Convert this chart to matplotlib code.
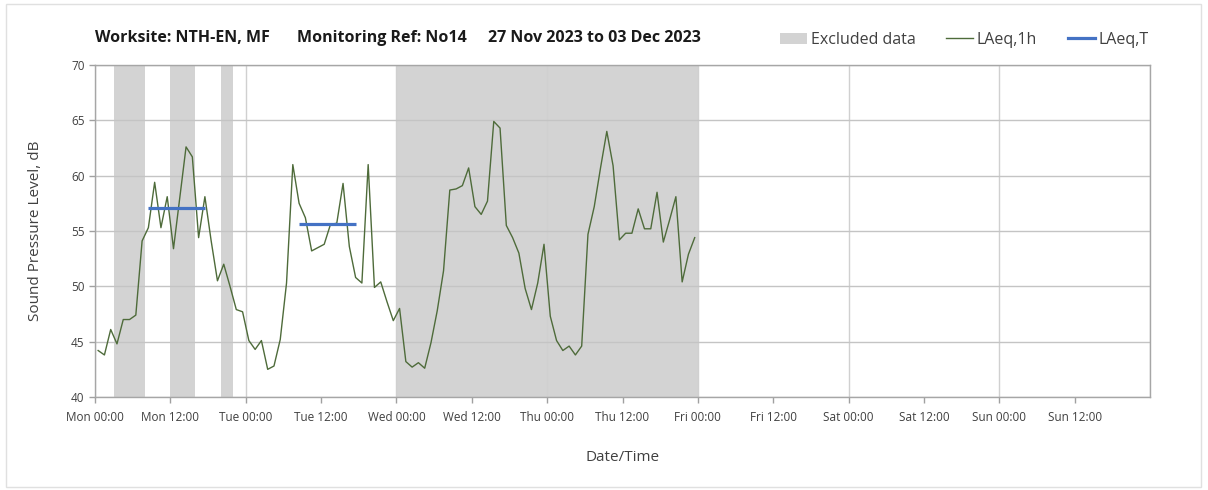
import matplotlib
matplotlib.use("Agg")
import matplotlib.pyplot as plt
from matplotlib.patches import Patch, Rectangle
from matplotlib.lines import Line2D

# ---------------- data ----------------
hours = [h + 0.5 for h in range(96)]
laeq_1h = [44.2, 43.8, 46.1, 44.8, 47.0, 47.0, 47.4, 54.1, 55.3, 59.4,
           55.3, 58.1, 53.4, 58.0, 62.6, 61.7, 54.4, 58.1, 54.1, 50.5,
           52.0, 50.0, 47.9, 47.7, 45.1, 44.3, 45.1, 42.5, 42.8, 45.2,
           50.3, 61.0, 57.5, 56.2, 53.2, 53.5, 53.8, 55.6, 55.7, 59.3,
           53.6, 50.8, 50.3, 61.0, 49.9, 50.4, 48.6, 46.9, 48.0, 43.2,
           42.7, 43.1, 42.6, 44.9, 47.8, 51.4, 58.7, 58.8, 59.1, 60.7,
           57.2, 56.5, 57.7, 64.9, 64.3, 55.5, 54.4, 53.0, 49.8, 47.9,
           50.3, 53.8, 47.3, 45.1, 44.2, 44.6, 43.8, 44.6, 54.7, 57.2,
           60.7, 64.0, 60.9, 54.2, 54.8, 54.8, 57.0, 55.2, 55.2, 58.5,
           54.0, 56.0, 58.1, 50.4, 52.9, 54.4]

excluded_start = [3, 12, 20, 48]
excluded_end = [8, 16, 22, 96]

laeqT_start = [8.5, 32.5]
laeqT_end = [17.5, 41.5]
laeqT_value = [57.1, 55.6]

tick_hours = list(range(0, 168, 12))
tick_labels = ["Mon 00:00", "Mon 12:00", "Tue 00:00", "Tue 12:00",
               "Wed 00:00", "Wed 12:00", "Thu 00:00", "Thu 12:00",
               "Fri 00:00", "Fri 12:00", "Sat 00:00", "Sat 12:00",
               "Sun 00:00", "Sun 12:00"]
y_ticks = [40, 45, 50, 55, 60, 65, 70]

title_parts = ["Worksite: NTH-EN, MF", "Monitoring Ref: No14",
               "27 Nov 2023 to 03 Dec 2023"]

# ---------------- style ----------------
plt.rcParams['font.family'] = ['Open Sans', 'DejaVu Sans']
W, H = 1208, 490
fig = plt.figure(figsize=(W / 100, H / 100), dpi=100)
ax = fig.add_axes([95 / W, 1 - 397 / H, (1150 - 95) / W, (397 - 65) / H])

band_col = '#d3d3d3'
green = '#4e6b3a'
blue = '#4472c4'
grid_col = '#c4c4c4'
txt_col = '#404040'

for s, e in zip(excluded_start, excluded_end):
    ax.axvspan(s, e, color=band_col, lw=0, zorder=0.2)

ax.set_axisbelow(True)
ax.yaxis.grid(True, color=grid_col, lw=1.0)
for t in tick_hours[::2] + [168]:
    ax.axvline(t, color='#d0d0d0', lw=1.0, zorder=0.5)

ax.plot(hours, laeq_1h, color=green, lw=1.0, zorder=3)
for s, e, v in zip(laeqT_start, laeqT_end, laeqT_value):
    ax.plot([s, e], [v, v], color=blue, lw=2.3, zorder=4, solid_capstyle='butt')

ax.set_xlim(0, 168)
ax.set_ylim(40, 70)
ax.set_xticks(tick_hours)
ax.set_xticklabels(tick_labels, fontsize=8.5, color=txt_col)
ax.set_yticks(y_ticks)
ax.set_yticklabels([str(v) for v in y_ticks], fontsize=8.5, color=txt_col)
ax.tick_params(axis='both', direction='out', length=4, color='#a0a0a0', width=1)
ax.tick_params(axis='x', pad=6)
for sp in ax.spines.values():
    sp.set_color('#a6a6a6')
    sp.set_linewidth(1.0)

ax.set_ylabel("Sound Pressure Level, dB", fontsize=11, color=txt_col, labelpad=20)
ax.set_xlabel("Date/Time", fontsize=11, color=txt_col, labelpad=19)

# title
title_x = [95, 297, 488]
for tx, part in zip(title_x, title_parts):
    fig.text(tx / W, 1 - 38 / H, part, fontsize=11.5, fontweight='bold',
             color='#1a1a1a', va='center', ha='left')

# legend
handles = [Patch(facecolor=band_col, edgecolor='none'),
           Line2D([], [], color=green, lw=1.0),
           Line2D([], [], color=blue, lw=2.3)]
fig.legend(handles, ["Excluded data", "LAeq,1h", "LAeq,T"], ncol=3,
           loc='center right', bbox_to_anchor=(1160 / W, 1 - 40 / H),
           frameon=False, fontsize=11.5, handlelength=1.7, handletextpad=0.25,
           columnspacing=1.9, labelcolor=txt_col, borderpad=0.2)

# outer frame
fig.patches.append(Rectangle((6 / W, 3 / H), (1201 - 6) / W, (486 - 3) / H,
                             transform=fig.transFigure, fill=False,
                             edgecolor='#e0e0e0', lw=1.0))

fig.savefig("out.png", dpi=100)
